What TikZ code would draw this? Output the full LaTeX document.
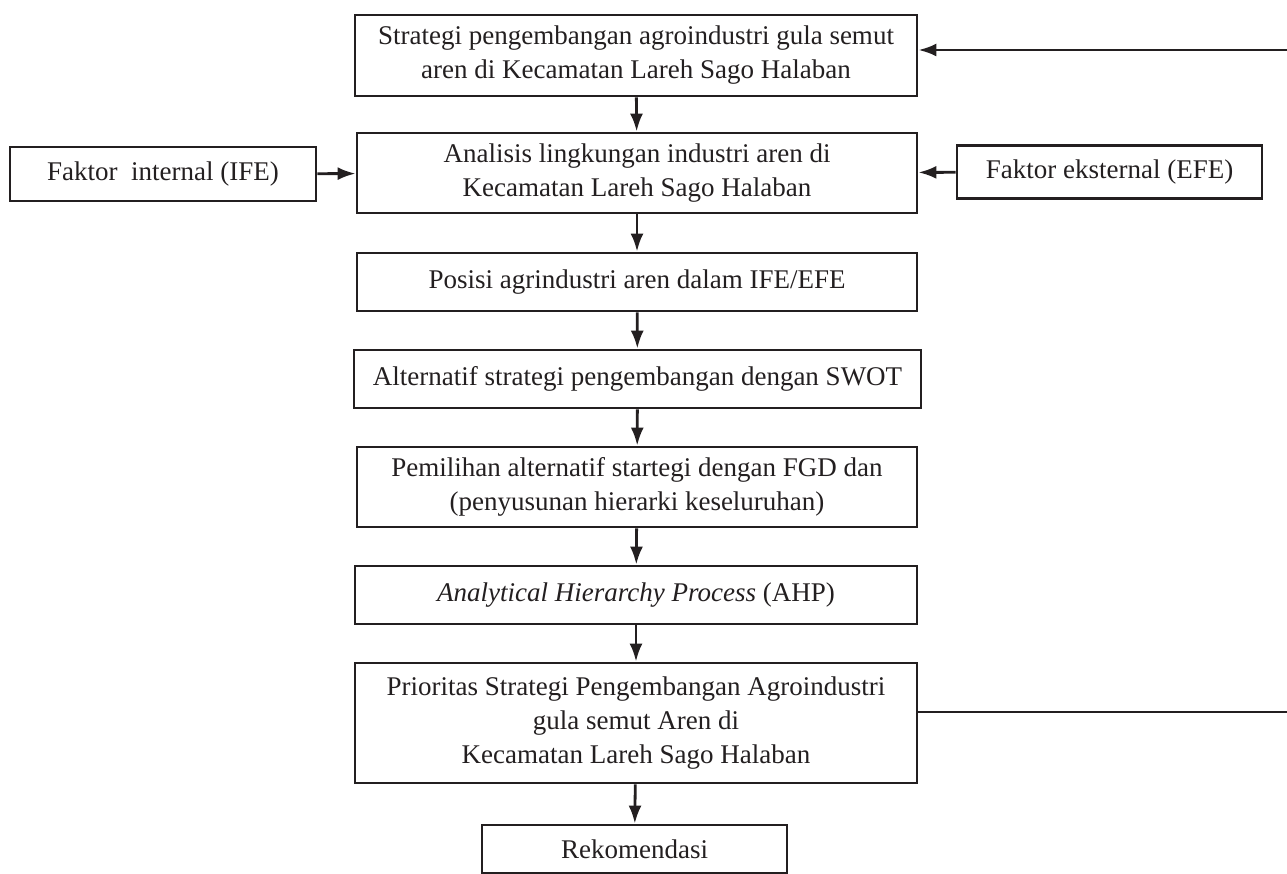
\documentclass[tikz,border=0pt]{standalone}
\usepackage{fontspec}
\setmainfont{Liberation Serif}
\usetikzlibrary{positioning,arrows.meta}
\definecolor{ink}{RGB}{35,31,32}

\begin{document}
\begin{tikzpicture}[x=1pt,y=-1pt,font=\fontsize{27}{34}\selectfont]
 \tikzset{arrow/.style={line width=2.8pt,draw=ink,-{Latex[length=18pt,width=13pt]}},
  box/.style={draw=ink,line width=2.8pt,align=center,inner sep=0pt,text=ink}}
 \useasboundingbox (0,0) rectangle (1287,874);
 \node[box,minimum width=562pt,minimum height=81pt] (A) at (636,55.5) {Strategi pengembangan agroindustri gula semut\\aren di Kecamatan Lareh Sago Halaban};
 \node[box,minimum width=560pt,minimum height=80pt] (B) at (637,173) {Analisis lingkungan industri aren di\\Kecamatan Lareh Sago Halaban};
 \node[box,minimum width=306pt,minimum height=54pt] (C) at (163,174) {Faktor\ \ internal (IFE)};
 \node[box,minimum width=305pt,minimum height=53pt] (D) at (1109.5,172) {Faktor eksternal (EFE)};
 \node[box,minimum width=560pt,minimum height=58pt] (E) at (637,282) {Posisi agrindustri aren dalam IFE/EFE};
 \node[box,minimum width=567pt,minimum height=58pt] (F) at (637.5,379) {Alternatif strategi pengembangan dengan SWOT};
 \node[box,minimum width=560pt,minimum height=80pt] (G) at (637,487) {Pemilihan alternatif startegi dengan FGD dan\\(penyusunan hierarki keseluruhan)};
 \node[box,minimum width=562pt,minimum height=58pt] (H) at (636,595) {\textit{Analytical Hierarchy Process} (AHP)};
 \node[box,minimum width=562pt,minimum height=120pt] (I) at (636,723) {Prioritas Strategi Pengembangan Agroindustri\\gula semut Aren di\\Kecamatan Lareh Sago Halaban};
 \node[box,minimum width=305pt,minimum height=48pt] (J) at (634.5,849) {Rekomendasi};
 \coordinate (out) at (1300,712);
 \coordinate (back) at (1300,50);

 \draw[arrow] (A) -- (B);
 \draw[arrow] (C) -- (B);
 \draw[arrow] (D) -- (B);
 \draw[arrow] (B) -- (E);
 \draw[arrow] (E) -- (F);
 \draw[arrow] (F) -- (G);
 \draw[arrow] (G) -- (H);
 \draw[arrow] (H) -- (I);
 \draw[arrow] (I) -- (J);
 \draw[arrow] (I.east |- out) -- (out) -- (back) -- (A.east |- back);
\end{tikzpicture}
\end{document}
